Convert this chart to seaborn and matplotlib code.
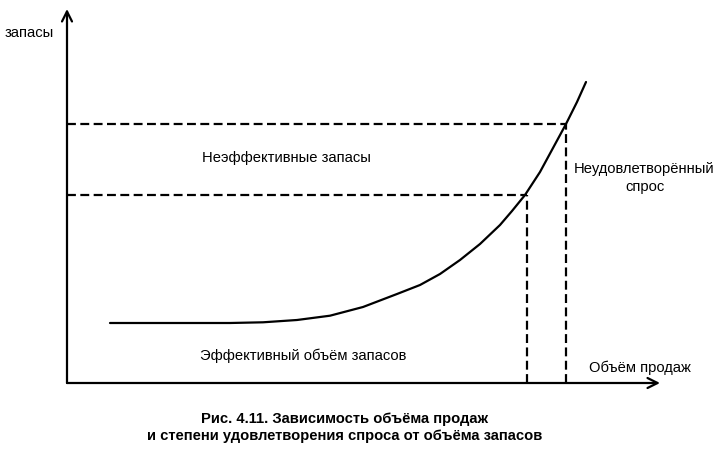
import matplotlib
matplotlib.use("Agg")
import matplotlib.pyplot as plt
import seaborn as sns
import pandas as pd

# Data (x = sales volume, y = stocks)
curve_x = [43, 93, 133, 163, 196, 230, 263, 296, 330, 353, 373, 393, 413, 433,
           445, 458, 473, 486, 499, 510, 519]
curve_y = [60, 60, 60, 60, 60.7, 63, 67.3, 76, 89, 98, 109, 123, 139, 158,
           172, 188, 211, 235, 259, 281, 301]
level_low = 188
level_high = 259
sales_low = 459.5
sales_high = 499

y_label = "запасы"
x_label = "Объём продаж"
txt_ineff = "Неэффективные запасы"
txt_unmet = "Неудовлетворённый\nспрос"
txt_eff = "Эффективный объём запасов"
caption = "Рис. 4.11. Зависимость объёма продаж\nи степени удовлетворения спроса от объёма запасов"

sns.set_style("white")
plt.rcParams['font.family'] = ['Liberation Sans', 'DejaVu Sans']
plt.rcParams['text.color'] = 'black'

fig = plt.figure(figsize=(7.21, 4.59), dpi=100)
ax = fig.add_axes([0, 0, 1, 1])
ax.set_xlim(-67, 654)
ax.set_ylim(-76, 383)
ax.axis("off")

df = pd.DataFrame({"x": curve_x, "y": curve_y})
sns.lineplot(data=df, x="x", y="y", ax=ax, color="black", linewidth=1.6, sort=False)

# axes with arrows
ax.annotate("", xy=(0, 374), xytext=(0, 0),
            arrowprops=dict(arrowstyle="->", color="black", lw=1.6, mutation_scale=18, shrinkA=0, shrinkB=0))
ax.annotate("", xy=(593, 0), xytext=(0, 0),
            arrowprops=dict(arrowstyle="->", color="black", lw=1.6, mutation_scale=18, shrinkA=0, shrinkB=0))

dash = dict(color="black", linewidth=1.6, linestyle=(0, (4, 2)))
ax.plot([0, sales_high], [level_high, level_high], **dash)
ax.plot([0, sales_low], [level_low, level_low], **dash)
ax.plot([sales_low, sales_low], [0, level_low], **dash)
ax.plot([sales_high, sales_high], [0, level_high], **dash)

fs = 10.6
ax.text(-62, 350, y_label, fontsize=fs, va="center", ha="left", color="black")
ax.text(135, 225, txt_ineff, fontsize=fs, va="center", ha="left", color="black")
ax.text(577.5, 205, txt_unmet, fontsize=fs, va="center", ha="center", linespacing=1.3, color="black")
ax.text(133, 27, txt_eff, fontsize=fs, va="center", ha="left", color="black")
ax.text(522, 15, x_label, fontsize=fs, va="center", ha="left", color="black")
ax.text(278, -44.5, caption, fontsize=10.6, fontweight="bold", va="center", ha="center",
        linespacing=1.29, color="black")

fig.savefig("out.png", dpi=100)
